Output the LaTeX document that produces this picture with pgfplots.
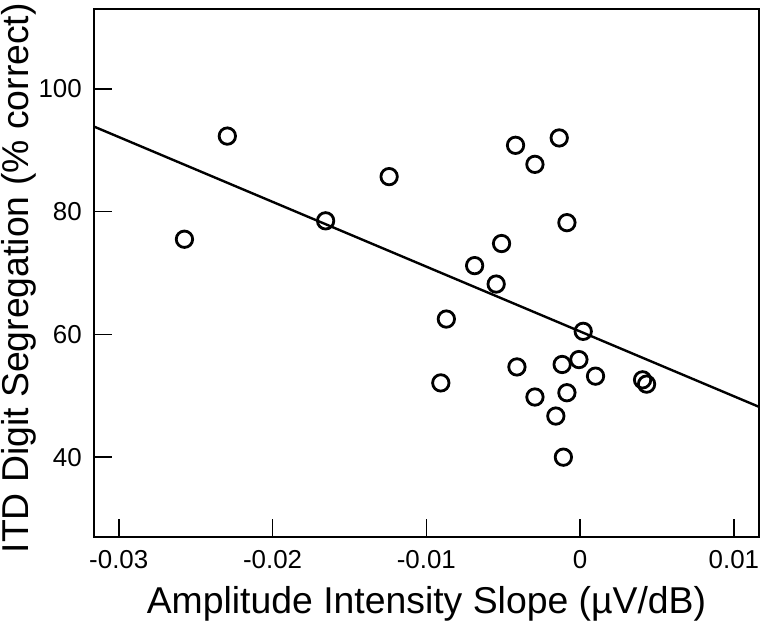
\documentclass[border=0pt]{standalone}
\usepackage{fontspec}
\setmainfont{Liberation Sans}
\usepackage{pgfplots}
\pgfplotsset{compat=1.18}
\begin{document}
\begin{tikzpicture}
\begin{axis}[
  at={(0,0)}, anchor=south west,
  scale only axis=true,
  width=665bp, height=528bp,
  xmin=-0.03161, xmax=0.01163,
  ymin=27, ymax=113,
  scaled x ticks=false, scaled y ticks=false,
  axis line style={line width=1.6bp},
  xtick={-0.03,-0.02,-0.01,0,0.01},
  xticklabels={{-0.03},{-0.02},{-0.01},{0},{0.01}},
  ytick={40,60,80,100},
  yticklabels={{40},{60},{80},{100}},
  xtick pos=left, ytick pos=left,
  tick align=inside,
  major tick length=18bp,
  major tick style={line width=1.6bp, black},
  tick label style={font=\fontsize{26}{30}\selectfont, inner sep=0pt},
  yticklabel style={xshift=-12bp},
  xticklabel style={yshift=-13bp},
  xlabel={Amplitude Intensity Slope (µV/dB)},
  ylabel={ITD Digit Segregation (\% correct)},
  label style={font=\fontsize{37.5}{44}\selectfont, inner sep=0pt},
  xlabel style={at={(axis description cs:0.5,-0.127)}, anchor=center},
  ylabel style={at={(axis description cs:-0.1128,0.49)}, anchor=center, rotate=0},
]
\addplot[black, line width=2.4bp] coordinates {(-0.03161,93.85) (0.01163,48.2)};
\addplot[only marks, mark=o, mark size=8.2bp, mark options={line width=2.8bp, black}] coordinates {
(-0.02573,75.5)
(-0.02294,92.3)
(-0.01655,78.5)
(-0.01242,85.7)
(-0.00906,52.1)
(-0.00870,62.5)
(-0.00686,71.2)
(-0.00546,68.2)
(-0.00511,74.8)
(-0.00420,90.8)
(-0.00411,54.7)
(-0.00294,49.8)
(-0.00294,87.7)
(-0.00158,46.7)
(-0.00136,92.0)
(-0.00117,55.1)
(-0.00109,40.0)
(-0.00086,78.2)
(-0.00086,50.5)
(-0.00008,55.9)
(0.0002,60.5)
(0.0010,53.2)
(0.00406,52.6)
(0.00432,51.9)
};
\end{axis}
\pgfresetboundingbox
\useasboundingbox (-94bp,-95bp) rectangle (667bp,537bp);
\end{tikzpicture}
\end{document}
